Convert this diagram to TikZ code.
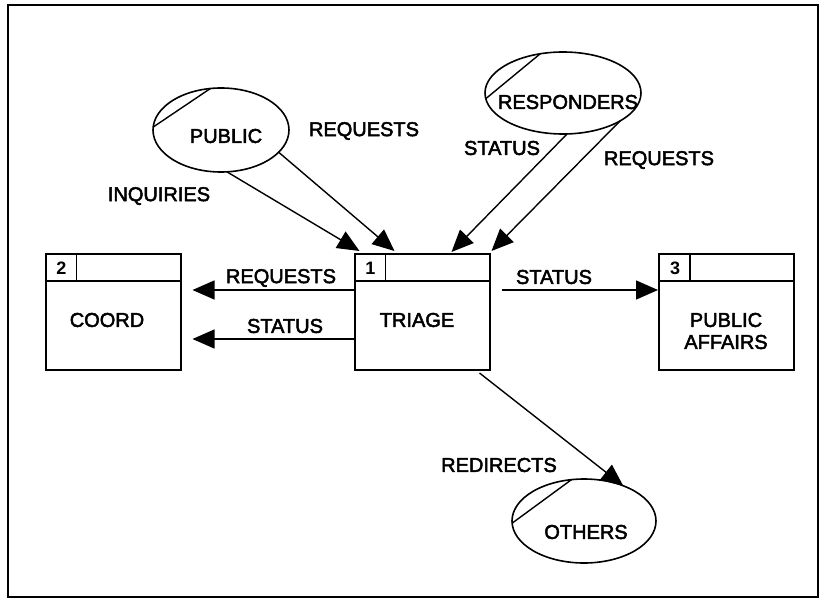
\documentclass[tikz,border=0pt]{standalone}
\usepackage{fontspec}
\setmainfont{Liberation Sans}
\newfontfamily\dfdfont[FakeBold=2.5]{Liberation Sans}
\usetikzlibrary{arrows.meta,calc,shapes.geometric}
\begin{document}
\begin{tikzpicture}[x=1pt,y=-1pt,
  lbl/.style={font=\dfdfont\fontsize{20}{22}\selectfont, inner sep=0pt},
  num/.style={font=\bfseries\fontsize{18}{20}\selectfont, inner sep=0pt},
  procbox/.style={draw, line width=2pt, minimum width=135pt, minimum height=116pt, inner sep=0pt},
  extern/.style={draw, ellipse, line width=1.6pt, inner sep=0pt},
  flow/.style={line width=1.4pt, -{Triangle[length=22pt,width=19pt]}},
  chord/.style={line width=1.4pt},
  rule/.style={line width=1.7pt}]
\useasboundingbox (0,0) rectangle (827,599);
% outer frame
\draw[line width=2pt] (8,5) rectangle (818,597);

% process boxes
\node[procbox] (coord) at (113,312) {};
\node[procbox] (tri)   at (422,312) {};
\node[procbox] (pa)    at (726.5,312) {};
\foreach \b/\n in {coord/2, tri/1, pa/3} {
  \draw[rule] ($(\b.north west)+(0,28)$) -- ($(\b.north east)+(0,28)$);
  \draw[rule] ($(\b.north west)+(32,0)$) -- ($(\b.north west)+(32,28)$);
  \node[num] (\b num) at ($(\b.north west)+(17,15)$) {\n};
}
\node[lbl] (coordtxt) at (107,320) {COORD};
\node[lbl] (tritxt) at (417,320) {TRIAGE};
\node[lbl, align=center] (patxt) at (726,331) {PUBLIC\\AFFAIRS};

% external entities
\node[extern, minimum width=136pt, minimum height=84pt] (pub) at (221,130) {};
\node[lbl] (publbl) at (226,136) {PUBLIC};
\node[extern, minimum width=156pt, minimum height=82pt] (resp) at (563,93) {};
\node[lbl] (resplbl) at (568,102) {RESPONDERS};
\node[extern, minimum width=144pt, minimum height=84pt] (oth) at (584,521) {};
\node[lbl] (othlbl) at (586,532) {OTHERS};

% corner marks of the entities
\draw[chord] ($(pub.center)+({68*cos(99)},{-42*sin(99)})$) -- ($(pub.center)+({68*cos(176)},{-42*sin(176)})$);
\draw[chord] ($(resp.center)+({78*cos(107)},{-41*sin(107)})$) -- ($(resp.center)+({78*cos(188)},{-41*sin(188)})$);
\draw[chord] ($(oth.center)+({72*cos(100)},{-42*sin(100)})$) -- ($(oth.center)+({72*cos(183)},{-42*sin(183)})$);

% flows into triage
\draw[flow] ($(pub.center)+({68*cos(-85)},{-42*sin(-85)})$) -- ($(tri.north west)+(6,-2)$);
\draw[flow] ($(pub.center)+({68*cos(-32)},{-42*sin(-32)})$) -- ($(tri.north west)+(41,-2)$);
\draw[flow] ($(resp.center)+({78*cos(-87)},{-41*sin(-87)})$) -- ($(tri.north west)+(98,-1)$);
\draw[flow] ($(resp.center)+({78*cos(-43)},{-41*sin(-43)})$) -- ($(tri.north east)+(1,-2)$);

% flows out of triage
\draw[flow] ($(tri.north west)+(0,37)$) -- ($(coord.north east)+(11,37)$);
\draw[flow] ($(tri.north west)+(0,86)$) -- ($(coord.north east)+(11,86)$);
\draw[flow] ($(tri.north east)+(11,37)$) -- ($(pa.north west)+(0,37)$);
\draw[flow] ($(tri.south east)+(-11,2)$) -- ($(oth.center)+({72*cos(57)},{-42*sin(57)})$);

% flow labels
\node[lbl] (l1) at (159,196) {INQUIRIES};
\node[lbl] (l2) at (364,131) {REQUESTS};
\node[lbl] (l3) at (502,148) {STATUS};
\node[lbl] (l4) at (659,160) {REQUESTS};
\node[lbl] (l5) at (281,278) {REQUESTS};
\node[lbl] (l6) at (285,326) {STATUS};
\node[lbl] (l7) at (554,277) {STATUS};
\node[lbl] (l8) at (499,465) {REDIRECTS};
\end{tikzpicture}
\end{document}
